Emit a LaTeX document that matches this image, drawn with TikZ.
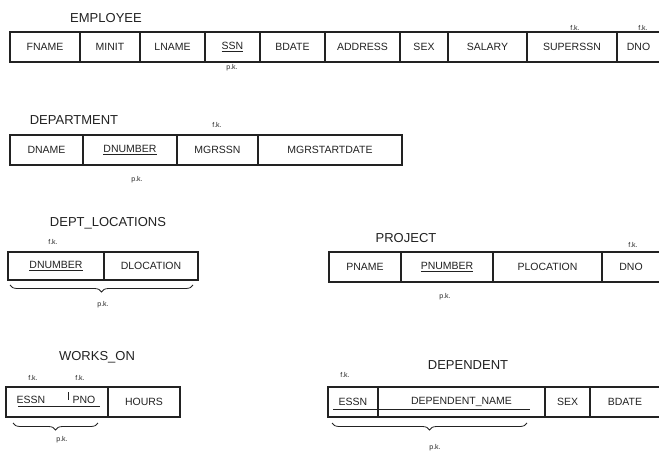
\documentclass[tikz,border=0pt]{standalone}
\usepackage{fontspec}
\setmainfont{Liberation Sans}
\usetikzlibrary{decorations.pathreplacing}
\definecolor{ink}{HTML}{222222}
\begin{document}
\begin{tikzpicture}[x=1pt,y=-1pt,
  cell/.style={draw=ink, line width=1.1pt, minimum height=30pt, inner sep=0pt, text=ink, font=\fontsize{10.5}{11}\selectfont},
  plain/.style={inner sep=0pt, text=ink, font=\fontsize{10.5}{11}\selectfont},
  title/.style={inner sep=0pt, text=ink, font=\fontsize{13}{14}\selectfont},
  tiny/.style={inner sep=0pt, text=ink, font=\fontsize{7}{8}\selectfont},
  uline/.style={draw=ink, line width=0.8pt},
  pkbrace/.style={draw=ink, line width=0.8pt, decorate, decoration={brace, amplitude=7pt, mirror}}]
\useasboundingbox (0,0) rectangle (659,452);
\fill[white] (0,0) rectangle (659,452);

% EMPLOYEE
\node[title] (emp) at (106,18) {EMPLOYEE};
\node[cell, minimum width=70pt] (e1) at (45,47) {FNAME};
\node[cell, minimum width=60pt] (e2) at (110,47) {MINIT};
\node[cell, minimum width=65pt] (e3) at (172.5,47) {LNAME};
\node[cell, minimum width=55pt] (e4) at (232.5,47) {\underline{SSN}};
\node[cell, minimum width=65pt] (e5) at (292.5,47) {BDATE};
\node[cell, minimum width=75pt] (e6) at (362.5,47) {ADDRESS};
\node[cell, minimum width=48pt] (e7) at (424,47) {SEX};
\node[cell, minimum width=79pt] (e8) at (487.5,47) {SALARY};
\node[cell, minimum width=90pt] (e9) at (572,47) {SUPERSSN};
\node[cell, minimum width=43pt] (e10) at (638.5,47) {DNO};
\node[tiny] (efk1) at (575,28) {f.k.};
\node[tiny] (efk2) at (643,28) {f.k.};
\node[tiny] (epk) at (232,68) {p.k.};

% DEPARTMENT
\node[title] (dep) at (74,120) {DEPARTMENT};
\node[cell, minimum width=73pt] (d1) at (46.5,150) {DNAME};
\node[cell, minimum width=94pt] (d2) at (130,150) {\underline{DNUMBER}};
\node[cell, minimum width=81pt] (d3) at (217.5,150) {MGRSSN};
\node[cell, minimum width=144pt] (d4) at (330,150) {MGRSTARTDATE};
\node[tiny] (dfk) at (217,125) {f.k.};
\node[tiny] (dpk) at (137,180) {p.k.};

% DEPT_LOCATIONS
\node[title] (dl) at (108,223) {DEPT\_LOCATIONS};
\node[cell, minimum height=28pt, minimum width=96pt] (l1) at (56,266) {\underline{DNUMBER}};
\node[cell, minimum height=28pt, minimum width=94pt] (l2) at (151,266) {DLOCATION};
\node[tiny] (lfk) at (53,242) {f.k.};
\coordinate (lb1) at (10,285);
\coordinate (lb2) at (193,285);
\draw[pkbrace] (lb1) -- (lb2);
\node[tiny] (lpk) at (103,305) {p.k.};

% PROJECT
\node[title] (pr) at (406,238) {PROJECT};
\node[cell, minimum width=72pt] (p1) at (365,267) {PNAME};
\node[cell, minimum width=92pt] (p2) at (447,267) {\underline{PNUMBER}};
\node[cell, minimum width=109pt] (p3) at (547.5,267) {PLOCATION};
\node[cell, minimum width=58pt] (p4) at (631,267) {DNO};
\node[tiny] (pfk) at (633,245) {f.k.};
\node[tiny] (ppk) at (445,297) {p.k.};

% WORKS_ON
\node[title] (wo) at (97,357) {WORKS\_ON};
\node[cell, minimum width=102pt] (w1) at (57,402) {};
\node[cell, minimum width=72pt] (w2) at (144,402) {HOURS};
\node[plain] (wessn) at (31,400) {ESSN};
\node[plain] (wpno) at (84,400) {PNO};
\coordinate (wt1) at (68,392);
\coordinate (wt2) at (68,400);
\draw[draw=ink, line width=0.8pt] (wt1) -- (wt2);
\coordinate (wu1) at (18,406);
\coordinate (wu2) at (100,406);
\draw[uline] (wu1) -- (wu2);
\node[tiny] (wfk1) at (33,378) {f.k.};
\node[tiny] (wfk2) at (80,378) {f.k.};
\coordinate (wb1) at (13,423);
\coordinate (wb2) at (98,423);
\draw[pkbrace] (wb1) -- (wb2);
\node[tiny] (wpk) at (62,440) {p.k.};

% DEPENDENT
\node[title] (dp) at (468,365) {DEPENDENT};
\node[cell, minimum width=50pt] (n1) at (353,402) {ESSN};
\node[cell, minimum width=167pt] (n2) at (461.5,402) {DEPENDENT\_NAME};
\node[cell, minimum width=45pt] (n3) at (567.5,402) {SEX};
\node[cell, minimum width=70pt] (n4) at (625,402) {BDATE};
\coordinate (nu1) at (333,409);
\coordinate (nu2) at (530,409);
\draw[uline] (nu1) -- (nu2);
\node[tiny] (nfk) at (345,375) {f.k.};
\coordinate (nb1) at (332,423);
\coordinate (nb2) at (527,423);
\draw[pkbrace] (nb1) -- (nb2);
\node[tiny] (npk) at (435,448) {p.k.};
\end{tikzpicture}
\end{document}
